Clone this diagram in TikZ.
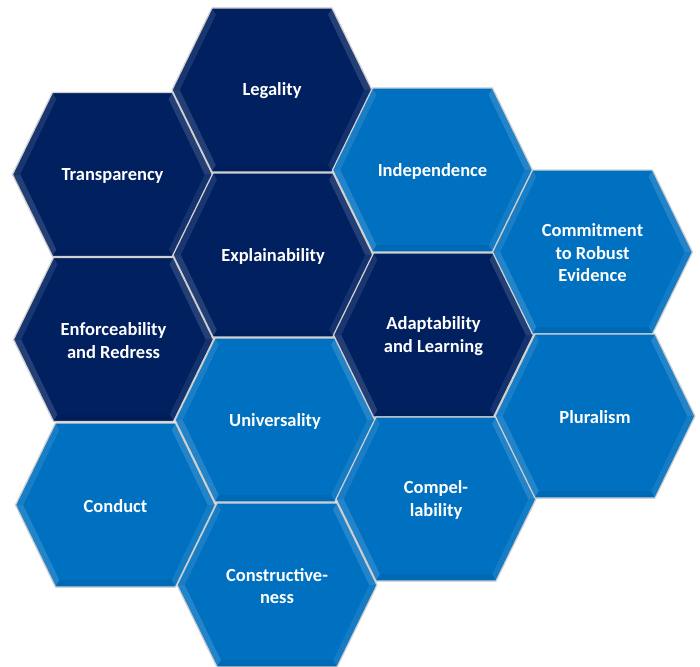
\documentclass[tikz,border=0pt]{standalone}
\usepackage{fontspec}
\setmainfont{Carlito}
\begin{document}
\definecolor{navy}{HTML}{002060}
\definecolor{azure}{HTML}{0070C0}
\definecolor{rim}{HTML}{D0D0D0}
\tikzset{
  hexedge/.style={draw=rim, line width=1.2pt, line join=round},
  hexlabel/.style={text=white, font=\bfseries\fontsize{18.5}{22.5}\selectfont, align=center, inner sep=0pt},
}
% #1 node name, #2 x, #3 y, #4 base colour, #5 label
\newcommand{\hexcell}[5]{%
  \begin{scope}[shift={(#2,#3)}]
    \fill[#4] (-100,0) -- (-60,-82) -- (60,-82) -- (100,0) -- (60,82) -- (-60,82) -- cycle;
    % soft bevel facets
    \fill[#4!90!white] (-100,0) -- (-60,-82) -- (-56,-75) -- (-92,0) -- cycle;
    \fill[#4!86!white] (-100,0) -- (-60,82) -- (-56,75) -- (-92,0) -- cycle;
    \fill[#4!86!white] (100,0) -- (60,-82) -- (56,-75) -- (92,0) -- cycle;
    \fill[#4!92!white] (100,0) -- (60,82) -- (56,75) -- (92,0) -- cycle;
    \fill[#4!94!black] (-60,82) -- (60,82) -- (56,75) -- (-56,75) -- cycle;
    \fill[#4] (-92,0) -- (-56,-75) -- (56,-75) -- (92,0) -- (56,75) -- (-56,75) -- cycle;
    \draw[hexedge] (-100,0) -- (-60,-82) -- (60,-82) -- (100,0) -- (60,82) -- (-60,82) -- cycle;
    \node[hexlabel] (#1) at (0,1) {#5};
  \end{scope}}
\begin{tikzpicture}[x=1pt,y=-1pt]
\useasboundingbox (0,0) rectangle (700,666);
% first column
\hexcell{transparency}{112.5}{174.5}{navy}{Transparency}
\hexcell{enforce}{113.5}{339.5}{navy}{Enforceability\\and Redress}
\hexcell{conduct}{115.5}{505}{azure}{Conduct}
% second column
\hexcell{legality}{272}{90}{navy}{Legality}
\hexcell{explain}{273}{255}{navy}{Explainability}
\hexcell{universal}{275}{420}{azure}{Universality}
\hexcell{construct}{277}{585}{azure}{Constructive-\\ness}
% third column
\hexcell{independ}{432.5}{170}{azure}{Independence}
\hexcell{adapt}{433.5}{335}{navy}{Adaptability\\and Learning}
\hexcell{compel}{436}{499}{azure}{Compel-\\lability}
% fourth column
\hexcell{commit}{592.5}{252}{azure}{Commitment\\to Robust\\Evidence}
\hexcell{plural}{595}{416}{azure}{Pluralism}
\end{tikzpicture}
\end{document}
